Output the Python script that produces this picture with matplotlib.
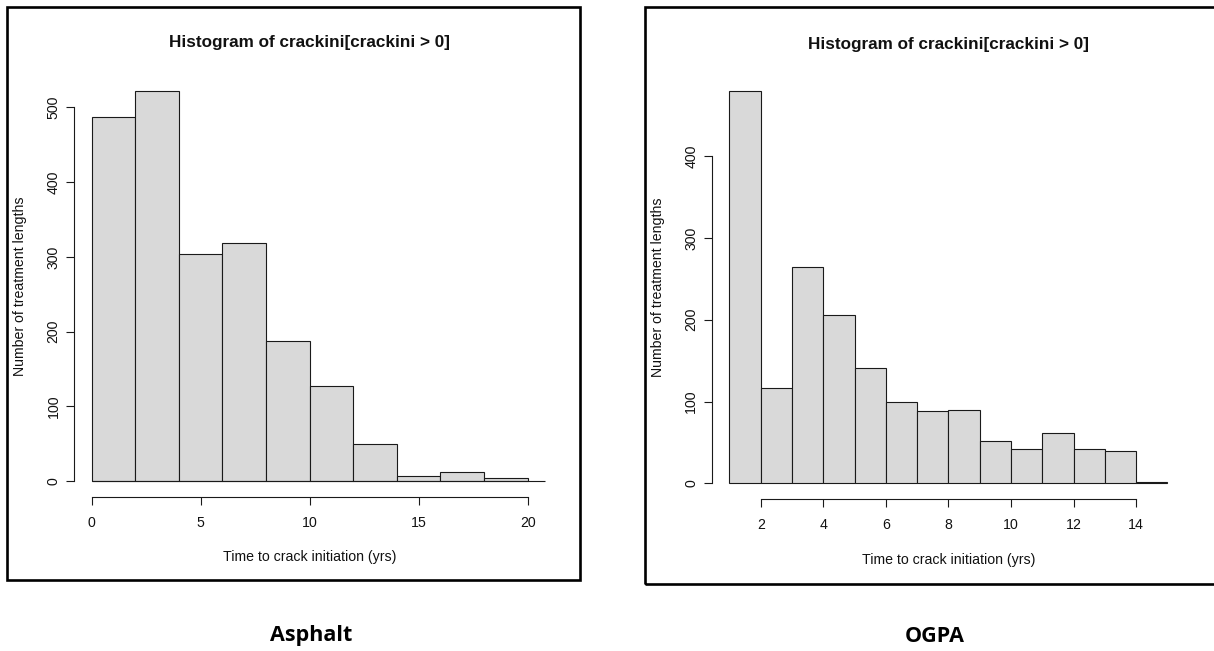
import numpy as np
import matplotlib
matplotlib.use("Agg")
import matplotlib.pyplot as plt
from matplotlib.patches import Rectangle

plt.rcParams['font.family'] = ['Liberation Sans', 'DejaVu Sans']

# ---- data -------------------------------------------------------------
asphalt_edges = [0, 2, 4, 6, 8, 10, 12, 14, 16, 18, 20]
asphalt_counts = [487, 522, 304, 318, 188, 127, 50, 7, 13, 4]
asphalt_xticks = [0, 5, 10, 15, 20]
asphalt_yticks = [0, 100, 200, 300, 400, 500]

ogpa_edges = [1, 2, 3, 4, 5, 6, 7, 8, 9, 10, 11, 12, 13, 14, 15]
ogpa_counts = [479, 117, 265, 206, 141, 100, 88, 90, 52, 42, 61, 42, 40, 2]
ogpa_xticks = [2, 4, 6, 8, 10, 12, 14]
ogpa_yticks = [0, 100, 200, 300, 400]

title = "Histogram of crackini[crackini > 0]"
xlab = "Time to crack initiation (yrs)"
ylab = "Number of treatment lengths"
captions = ["Asphalt", "OGPA"]

W, H = 1214, 651
DPI = 100
fig = plt.figure(figsize=(W / DPI, H / DPI), dpi=DPI)
fig.patch.set_facecolor("white")


def px_rect(x0, y0, x1, y1):
    """Convert a pixel box (top-left origin) to figure fractions."""
    return [x0 / W, 1 - y1 / H, (x1 - x0) / W, (y1 - y0) / H]


def r_hist(ax, edges, counts, xticks, yticks, baseline_to_edge, tlab_y, xlab_y, ylab_x):
    edges = np.asarray(edges, dtype=float)
    counts = np.asarray(counts, dtype=float)
    # R-style 4% axis extension
    xr = edges[-1] - edges[0]
    yr = counts.max()
    ax.set_xlim(edges[0] - 0.04 * xr, edges[-1] + 0.04 * xr)
    ax.set_ylim(-0.04 * yr, yr * 1.04)
    ax.bar(edges[:-1], counts, width=np.diff(edges), align="edge",
           facecolor="#d9d9d9", edgecolor="#1a1a1a", linewidth=0.8, zorder=2)
    if baseline_to_edge:
        ax.plot([edges[0], ax.get_xlim()[1]], [0, 0], color="#1a1a1a", lw=0.8,
                zorder=3, clip_on=False, solid_capstyle="butt")
    for s in ("top", "right"):
        ax.spines[s].set_visible(False)
    ax.spines["left"].set_bounds(yticks[0], yticks[-1])
    ax.spines["bottom"].set_bounds(xticks[0], xticks[-1])
    for s in ("left", "bottom"):
        ax.spines[s].set_linewidth(0.8)
        ax.spines[s].set_color("#1a1a1a")
    ax.set_xticks(xticks)
    ax.set_yticks(yticks)
    ax.tick_params(axis="both", length=5.8, width=0.8, color="#1a1a1a",
                   labelsize=10.2, labelcolor="#111111")
    ax.tick_params(axis="x", pad=8)
    ax.tick_params(axis="y", pad=4, labelrotation=90)
    for lab in ax.get_yticklabels():
        lab.set_va("center")
    ax.set_title(title, fontsize=12.3, fontweight="bold", y=tlab_y, pad=0,
                 va="center", color="#111111")
    ax.set_xlabel(xlab, fontsize=10.2, va="center", color="#111111")
    ax.xaxis.set_label_coords(0.5, xlab_y)
    ax.set_ylabel(ylab, fontsize=10.2, va="center", color="#111111")
    ax.yaxis.set_label_coords(ylab_x, 0.5)
    ax.patch.set_alpha(0)


# left panel: Asphalt
ax1 = fig.add_axes(px_rect(74.3, 75.2, 545.0, 496.9))
r_hist(ax1, asphalt_edges, asphalt_counts, asphalt_xticks, asphalt_yticks,
       True, 1.0764, -0.1432, -0.116)

# right panel: OGPA
ax2 = fig.add_axes(px_rect(711.9, 75.8, 1185.0, 499.0))
r_hist(ax2, ogpa_edges, ogpa_counts, ogpa_xticks, ogpa_yticks,
       False, 1.0728, -0.1441, -0.1135)

# device borders around each plot
for (x0, y0, x1, y1) in [(7, 7, 580, 580), (645, 7, 1220, 584)]:
    fig.add_artist(Rectangle((x0 / W, 1 - y1 / H), (x1 - x0) / W, (y1 - y0) / H,
                             transform=fig.transFigure, fill=False,
                             edgecolor="black", linewidth=1.9))

# captions under each panel
for cx, text in zip([311, 935], captions):
    fig.text(cx / W, 1 - 636 / H, text, ha="center", va="center",
             fontsize=15.5, fontweight="bold", family=["Open Sans", "DejaVu Sans"])

fig.savefig("out.png", dpi=DPI, facecolor="white")
